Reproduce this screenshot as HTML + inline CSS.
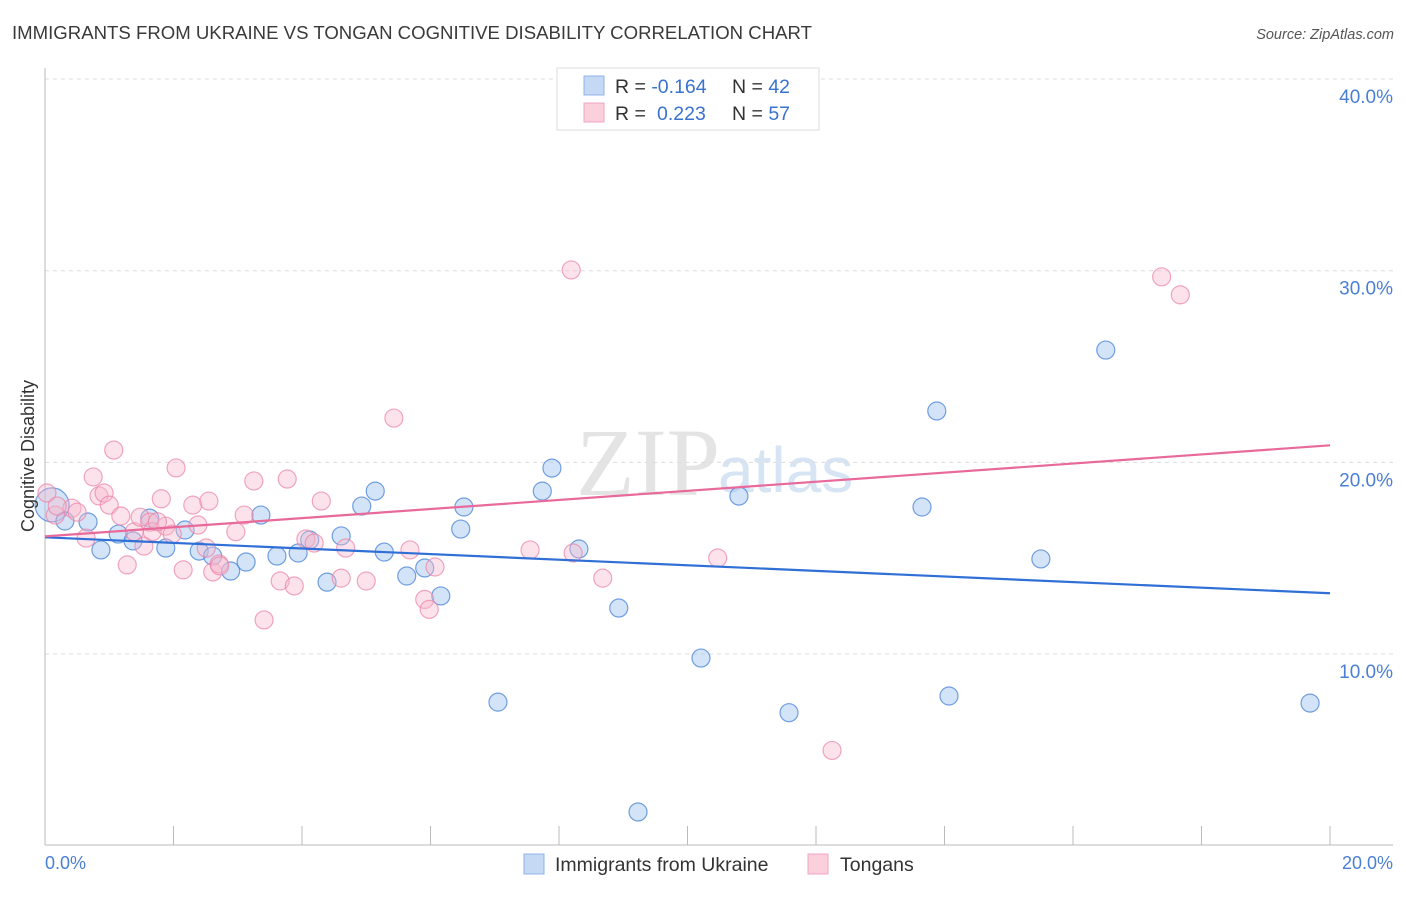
<!DOCTYPE html>
<html><head><meta charset="utf-8"><style>
body{margin:0;background:#fff;font-family:"Liberation Sans",sans-serif;}
</style></head><body>
<svg width="1406" height="892" xmlns="http://www.w3.org/2000/svg">
<text x="12" y="39" font-size="18.6" fill="#3a3a3a">IMMIGRANTS FROM UKRAINE VS TONGAN COGNITIVE DISABILITY CORRELATION CHART</text>
<text x="1394" y="39" font-size="14.5" fill="#555" font-style="italic" text-anchor="end">Source: ZipAtlas.com</text>
<text x="720" y="495" font-size="96" fill="#e4e4e4" text-anchor="end" font-family="Liberation Serif">ZIP</text>
<text x="718" y="492" font-size="64" fill="#d6e4f4">atlas</text>
<g id="grid"></g>
<g id="axes"></g>
<g id="pts"></g>
<g id="lines"></g>
<text transform="translate(34,456) rotate(-90)" font-size="18" fill="#333" text-anchor="middle">Cognitive Disability</text>
<text x="45" y="869" font-size="18" fill="#4a7fd4">0.0%</text>
<text x="1393" y="869" font-size="18" fill="#4a7fd4" text-anchor="end">20.0%</text>
<g>
<rect x="557" y="68" width="262" height="62" fill="#fff" stroke="#ddd"/>
<rect x="584" y="76" width="20" height="19" fill="#c5d9f5" stroke="#8fb3e8"/>
<rect x="584" y="103" width="20" height="19" fill="#fbd0dc" stroke="#f0a5bb"/>
<text x="615" y="93" font-size="19.5" fill="#333">R = <tspan fill="#3a72d0">-0.164</tspan><tspan x="732">N = </tspan><tspan fill="#3a72d0">42</tspan></text>
<text x="615" y="120" font-size="19.5" fill="#333">R = <tspan x="657" fill="#3a72d0">0.223</tspan><tspan x="732">N = </tspan><tspan fill="#3a72d0">57</tspan></text>
</g>
<g>
<rect x="524" y="854" width="20" height="20" fill="#c5d9f5" stroke="#8fb3e8"/>
<text x="555" y="871" font-size="19.5" fill="#333">Immigrants from Ukraine</text>
<rect x="808" y="854" width="20" height="20" fill="#fbd0dc" stroke="#f0a5bb"/>
<text x="840" y="871" font-size="19.5" fill="#333">Tongans</text>
</g>
</svg>
<script>
const yTicks=[10,20,30,40];
const yTickLabels=["10.0%","20.0%","30.0%","40.0%"];
const xTicks=[0,2,4,6,8,10,12,14,16,18,20];
const ukraineX=[0.11,0.31,0.67,0.87,1.14,1.37,1.63,1.88,2.18,2.40,2.61,2.89,3.13,3.36,3.61,3.94,4.12,4.39,4.61,4.93,5.14,5.28,5.63,5.91,6.16,6.47,6.52,7.05,7.74,7.89,8.31,8.93,10.21,10.80,11.58,13.65,13.88,14.07,15.50,16.51,19.69,9.23];
const ukraineY=[17.78,16.94,16.89,15.43,16.26,15.90,17.09,15.53,16.47,15.37,15.11,14.33,14.80,17.25,15.11,15.27,15.95,13.75,16.16,17.72,18.50,15.32,14.07,14.49,13.03,16.52,17.67,7.49,18.50,19.70,15.48,12.40,9.79,18.24,6.94,17.67,22.68,7.81,14.96,25.86,7.44,1.76];
const tonganX=[0.03,0.16,0.42,0.50,0.64,0.75,0.84,0.92,1.00,1.07,1.18,1.28,1.39,1.48,1.54,1.63,1.67,1.81,1.88,1.98,2.04,2.15,2.30,2.38,2.51,2.55,2.61,2.71,2.97,3.10,3.25,3.41,3.66,3.77,3.88,4.06,4.19,4.30,4.61,4.68,5.00,5.43,5.68,5.91,5.98,6.07,7.55,8.19,8.22,8.68,10.47,12.25,17.38,17.67,0.19,1.75,2.72];
const tonganY=[18.40,17.25,17.61,17.40,16.05,19.24,18.25,18.40,17.77,20.64,17.20,14.65,16.38,17.14,15.63,16.88,16.38,18.10,16.67,16.26,19.71,14.39,17.77,16.73,15.53,17.98,14.28,14.70,16.38,17.25,19.03,11.78,13.81,19.13,13.55,16.00,15.79,17.98,13.96,15.53,13.81,22.31,15.43,12.85,12.33,14.54,15.43,30.04,15.27,13.96,15.01,4.97,29.68,28.74,17.72,16.90,14.60];
const ukraineTrend=[16.09,13.17];
const tonganTrend=[16.14,20.89];
const NS="http://www.w3.org/2000/svg";
const X=v=>45+v/20*1285;
const Y=v=>845.7-v*19.167;
function mk(t,a,p){const e=document.createElementNS(NS,t);for(const k in a)e.setAttribute(k,a[k]);document.getElementById(p).appendChild(e);return e;}
yTicks.forEach((t,i)=>{
 const g=mk('line',{x1:45,x2:1393,y1:Y(t),y2:Y(t),stroke:'#ddd','stroke-dasharray':'4,4'},'grid');
 
 
 const l=mk('text',{x:1393,y:Y(t)+24,'font-size':19,fill:'#4a7fd4','text-anchor':'end'},'grid');
 l.textContent=yTickLabels[i];
 
 
});
const ax=mk('line',{x1:45,x2:45,y1:68,y2:845,stroke:'#bbb'},'axes');


const bx=mk('line',{x1:45,x2:1393,y1:845,y2:845,stroke:'#bbb'},'axes');


xTicks.forEach(t=>{
 const e=mk('line',{x1:X(t),x2:X(t),y1:826,y2:845,stroke:'#bbb'},'axes');
 
 
});
ukraineX.forEach((x,i)=>{
 const c=mk('circle',{cx:X(x),cy:Y(ukraineY[i]),r:i===0?17:9,fill:'rgba(160,196,240,0.45)',stroke:'rgba(70,130,215,0.75)','stroke-width':1.2},'pts');
 
 
});
tonganX.forEach((x,i)=>{
 const c=mk('circle',{cx:X(x),cy:Y(tonganY[i]),r:9,fill:'rgba(248,185,205,0.4)',stroke:'rgba(235,130,165,0.7)','stroke-width':1.2},'pts');
 
 
});
const bl=mk('line',{x1:X(0),x2:X(20),y1:Y(ukraineTrend[0]),y2:Y(ukraineTrend[1]),stroke:'#2f6fd6','stroke-width':2.2},'lines');


const pl=mk('line',{x1:X(0),x2:X(20),y1:Y(tonganTrend[0]),y2:Y(tonganTrend[1]),stroke:'#e8699a','stroke-width':2.2},'lines');


</script>
</body></html>
